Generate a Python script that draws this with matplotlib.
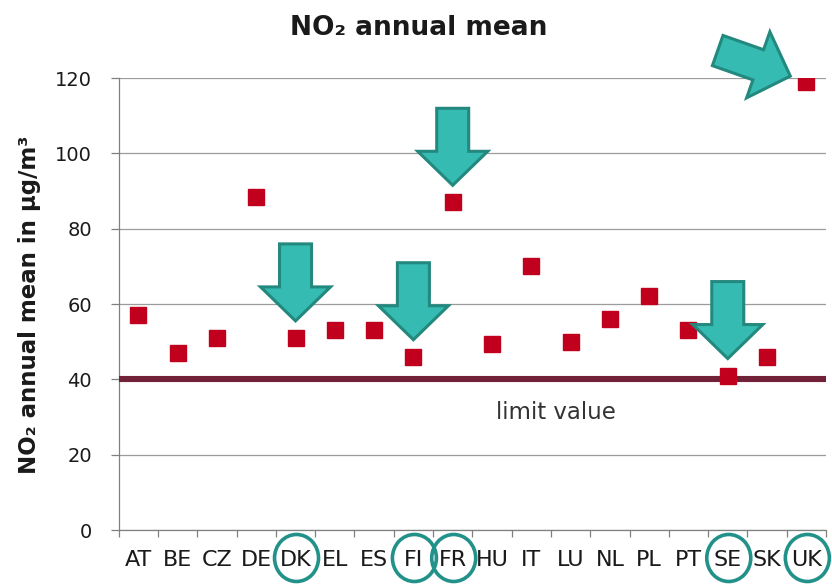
import numpy as np
import matplotlib
matplotlib.use("Agg")
import matplotlib.pyplot as plt
from matplotlib.patches import Polygon, Ellipse
from matplotlib.transforms import IdentityTransform

# ---- data ----
categories = ["AT", "BE", "CZ", "DE", "DK", "EL", "ES", "FI", "FR",
              "HU", "IT", "LU", "NL", "PL", "PT", "SE", "SK", "UK"]
no2_mean = [57, 47, 51, 88.5, 51, 53, 53, 46, 87,
            49.5, 70, 50, 56, 62, 53, 41, 46, 119]
limit_value = 40
yticks = [0, 20, 40, 60, 80, 100, 120]
highlighted = ["DK", "FI", "FR", "SE", "UK"]
arrow_angle = {"DK": -90, "FI": -90, "FR": -90, "SE": -90, "UK": -19.4}

# ---- style ----
marker_color = "#C0001C"
line_color = "#722238"
arrow_fill = "#35BBB1"
arrow_edge = "#23897F"
circle_color = "#22918A"
grid_color = "#9C9C9C"
axis_color = "#808080"
text_color = "#1A1A1A"

plt.rcParams["font.family"] = ["DejaVu Sans"]

W, H = 832, 585
fig = plt.figure(figsize=(W / 100, H / 100), dpi=100)
ax = fig.add_axes([118.7 / W, 1 - 530 / H, (826 - 118.7) / W, (530 - 78) / H])

x = np.arange(len(categories))
ax.set_xlim(-0.5, len(categories) - 0.5)
ax.set_ylim(0, 120)

ax.set_yticks(yticks)
ax.yaxis.grid(True, color=grid_color, lw=0.9, zorder=0)
ax.set_axisbelow(True)

ax.axhline(limit_value, color=line_color, lw=4.4, zorder=3, solid_capstyle="butt")
ax.plot(x, no2_mean, ls="none", marker="s", ms=11, color=marker_color,
        mec=marker_color, zorder=4)

for s in ["top", "right"]:
    ax.spines[s].set_visible(False)
for s in ["left", "bottom"]:
    ax.spines[s].set_color(axis_color)
    ax.spines[s].set_linewidth(0.9)

ax.set_xticks(x, categories)
ax.set_xticks(np.arange(-0.5, len(categories)), minor=True)
ax.tick_params(axis="x", which="major", length=0, pad=14.5, labelsize=16,
               labelcolor=text_color)
ax.tick_params(axis="x", which="minor", length=5, width=0.9, color=axis_color)
ax.tick_params(axis="y", length=5.8, width=0.9, color=axis_color, pad=13.5,
               labelsize=14, labelcolor=text_color)

fig.text(419 / W, 1 - 35 / H, "NO₂ annual mean", ha="center", va="baseline",
         fontsize=19, fontweight="bold", color=text_color)
fig.text(30 / W, 1 - 305 / H, "NO₂ annual mean in µg/m³", rotation=90,
         ha="center", va="center", fontsize=16.5, fontweight="bold",
         color=text_color)
ax.text(0.618, (530 - 419) / (530 - 78), "limit value", transform=ax.transAxes,
        ha="center", va="baseline", fontsize=16.5, color="#333333")

# ---- arrows pointing at highlighted markers ----
L, HL, HW, SW, GAP = 77, 34, 35, 16, 17
for name in highlighted:
    i = categories.index(name)
    px, py = ax.transData.transform((i, no2_mean[i]))
    a = np.deg2rad(arrow_angle[name])
    d = np.array([np.cos(a), np.sin(a)])
    n = np.array([-d[1], d[0]])
    tip = np.array([px, py]) - d * GAP
    shape = [(0, 0), (HL, HW), (HL, SW), (L, SW), (L, -SW), (HL, -SW), (HL, -HW)]
    pts = [tip - d * s + n * p for s, p in shape]
    fig.patches.append(Polygon(pts, closed=True, facecolor=arrow_fill,
                               edgecolor=arrow_edge, lw=2.2, joinstyle="miter",
                               transform=IdentityTransform(), zorder=6))

# ---- circles around highlighted labels ----
for name in highlighted:
    i = categories.index(name)
    px, _ = ax.transData.transform((i, 0))
    fig.patches.append(Ellipse((px + 1, H - 558), 44, 47, fill=False,
                               edgecolor=circle_color, lw=2.6,
                               transform=IdentityTransform(), zorder=6))

fig.savefig("out.png", dpi=100, facecolor="white")
